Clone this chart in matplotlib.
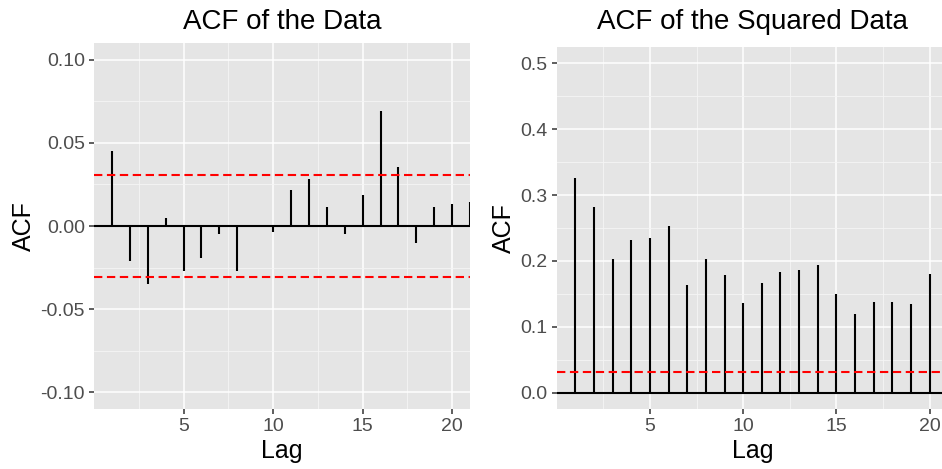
import numpy as np
import matplotlib
matplotlib.use("Agg")
import matplotlib.pyplot as plt
from matplotlib.ticker import FixedLocator

plt.rcParams['font.family'] = ['Liberation Sans', 'DejaVu Sans']

# sample autocorrelations, lags 1..21 (raw) and 1..20 (squared)
lags = np.arange(1, 22)
acf_data = [0.0448, -0.0212, -0.0349, 0.0051, -0.0269, -0.0192, -0.0051, -0.0271,
            0.0003, -0.0036, 0.0218, 0.0285, 0.0117, -0.0046, 0.0188, 0.0691,
            0.0356, -0.0101, 0.0117, 0.0131, 0.0145]
lags_sq = np.arange(1, 21)
acf_sq = [0.326, 0.282, 0.203, 0.232, 0.235, 0.253, 0.164, 0.203, 0.179, 0.136,
          0.166, 0.183, 0.186, 0.194, 0.150, 0.119, 0.137, 0.137, 0.135, 0.180]
conf_bound = 0.0305

BG = '#E5E5E5'


def gg_axes(ax, yticks, yminor, ylim):
    ax.set_facecolor(BG)
    for s in ax.spines.values():
        s.set_visible(False)
    ax.set_xlim(0, 21)
    ax.set_ylim(*ylim)
    ax.xaxis.set_major_locator(FixedLocator([5, 10, 15, 20]))
    ax.xaxis.set_minor_locator(FixedLocator([2.5, 7.5, 12.5, 17.5]))
    ax.yaxis.set_major_locator(FixedLocator(yticks))
    ax.yaxis.set_minor_locator(FixedLocator(yminor))
    ax.grid(which='major', color='white', linewidth=1.1)
    ax.grid(which='minor', color='#F5F5F5', linewidth=0.6)
    ax.set_axisbelow(True)
    ax.tick_params(which='major', length=3.5, width=1.1, color='#333333',
                   labelcolor='#4D4D4D', labelsize=14, pad=3)
    ax.tick_params(which='minor', length=0)
    ax.set_xlabel('Lag', fontsize=18, labelpad=3)
    ax.set_ylabel('ACF', fontsize=18, labelpad=3)


def stems(ax, x, y):
    ax.vlines(x, 0, y, color='black', linewidth=1.5)
    ax.axhline(0, color='black', linewidth=1.5)


fig = plt.figure(figsize=(9.42, 4.69), dpi=100)

ax1 = fig.add_axes([0.0998, 0.1279, 0.3992, 0.7804])
gg_axes(ax1, [-0.10, -0.05, 0.0, 0.05, 0.10], [-0.075, -0.025, 0.025, 0.075], (-0.11, 0.11))
ax1.yaxis.set_major_formatter(lambda v, p: f'{v:.2f}')
stems(ax1, lags, acf_data)
for b in (conf_bound, -conf_bound):
    ax1.axhline(b, color='red', linestyle=(0, (4, 2.2)), linewidth=1.5)
ax1.set_title('ACF of the Data', fontsize=20, pad=10)

ax2 = fig.add_axes([0.591, 0.1279, 0.4156, 0.7719])
gg_axes(ax2, [0.0, 0.1, 0.2, 0.3, 0.4, 0.5], [0.05, 0.15, 0.25, 0.35, 0.45], (-0.025, 0.525))
ax2.yaxis.set_major_formatter(lambda v, p: f'{v:.1f}')
stems(ax2, lags_sq, acf_sq)
ax2.axhline(conf_bound, color='red', linestyle=(0, (4, 2.2)), linewidth=1.5)
ax2.set_title('ACF of the Squared Data', fontsize=20, pad=13)

fig.savefig('out.png', dpi=100)
